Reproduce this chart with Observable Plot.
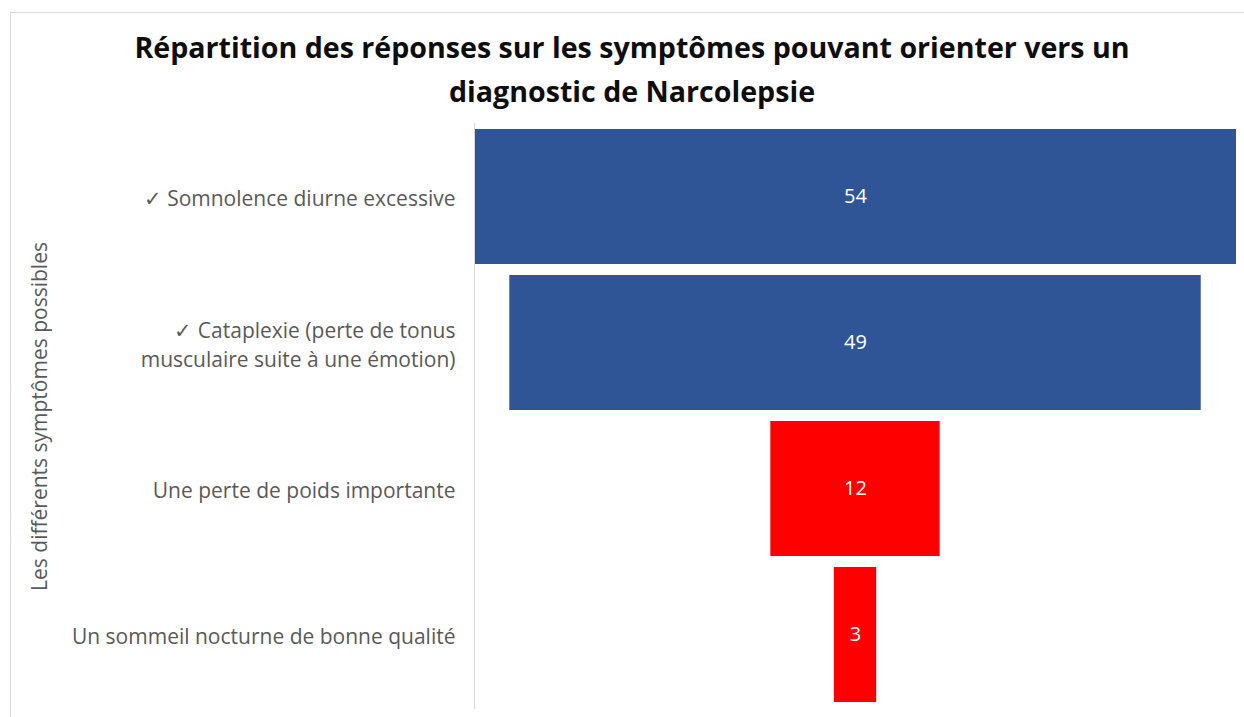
<!DOCTYPE html>
<html>
<head>
<meta charset="utf-8">
<script src="https://cdn.jsdelivr.net/npm/d3@7"></script>
<script src="https://cdn.jsdelivr.net/npm/@observablehq/plot@0.6"></script>
<style>
  html, body { margin: 0; padding: 0; background: #fff; width: 1244px; height: 717px; overflow: hidden; }
  #frame { position: absolute; left: 10px; top: 12px; width: 1250px; height: 720px; border-left: 1px solid #d9d9d9; border-top: 1px solid #d9d9d9; }
  #title { position: absolute; left: 10px; top: 25px; width: 1244px; text-align: center; font-family: "Open Sans", sans-serif; font-weight: 700; font-size: 28.6px; line-height: 44px; color: #0d0d0d; }
  #chart { position: absolute; left: 0; top: 110px; }
</style>
</head>
<body>
<div id="frame"></div>
<div id="title">Répartition des réponses sur les symptômes pouvant orienter vers un<br>diagnostic de Narcolepsie</div>
<div id="chart"></div>
<script>
const categories = [
  "✓ Somnolence diurne excessive",
  "✓ Cataplexie (perte de tonus\nmusculaire suite à une émotion)",
  "Une perte de poids importante",
  "Un sommeil nocturne de bonne qualité"
];
const values = [54, 49, 12, 3];
const groups = ["vrai", "vrai", "faux", "faux"];
const groupColors = {vrai: "#2F5597", faux: "#FF0000"};
const yAxisTitle = "Les différents symptômes possibles";

const data = categories.map((c, i) => ({category: c, value: values[i], group: groups[i]}));
const maxV = d3.max(values);

const chart = Plot.plot({
  width: 1244,
  height: 607,
  marginLeft: 474,
  marginRight: 8,
  marginTop: 13,
  marginBottom: 8,
  style: {fontFamily: "Open Sans, sans-serif", background: "transparent"},
  x: {domain: [-maxV / 2, maxV / 2], axis: null},
  y: {domain: categories, paddingInner: 0.075, paddingOuter: 0.04, label: null},
  color: {domain: Object.keys(groupColors), range: Object.values(groupColors)},
  marks: [
    Plot.barX(data, {y: "category", x1: d => -d.value / 2, x2: d => d.value / 2, fill: "group"}),
    Plot.text(data, {y: "category", x: 0, text: d => String(d.value), fill: "white", fontSize: 20}),
    Plot.axisY({tickSize: 0, tickPadding: 19, fontSize: 21, lineHeight: 1.4, fill: "#595959", label: null}),
    Plot.ruleX([-maxV / 2], {stroke: "#d9d9d9"}),
    Plot.text([yAxisTitle], {frameAnchor: "left", rotate: -90, dx: -434, textAnchor: "middle", fontSize: 21, fill: "#595959"})
  ]
});
document.getElementById("chart").appendChild(chart);
</script>
</body>
</html>
